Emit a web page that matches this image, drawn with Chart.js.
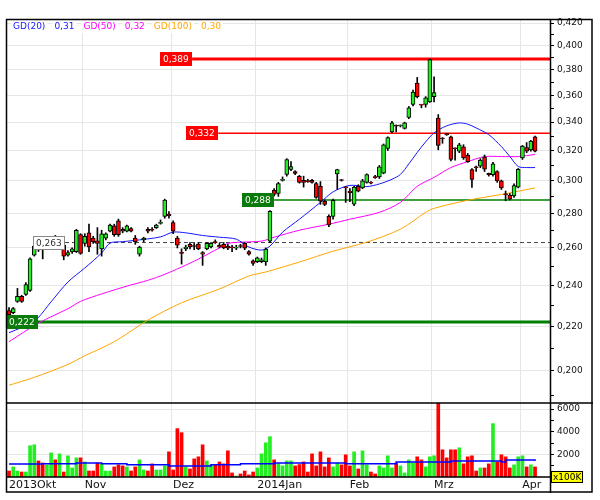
<!DOCTYPE html>
<html>
<head>
<meta charset="utf-8">
<script src="https://cdn.jsdelivr.net/npm/chart.js@4.4.1/dist/chart.umd.min.js"></script>
<style>
  html, body { margin: 0; padding: 0; background: #fff; }
</style>
</head>
<body>
<canvas id="chart" width="600" height="500"></canvas>
<script>
// daily candles, Okt 2013 - Apr 2014 (one entry per trading day)
const openPrices = [
  .2275,.2265,.2320,.2345,.2355,.2375,.2560,.2640,.2605,.2595,
  .2630,.2660,.2615,.2615,.2560,.2578,.2580,.2675,.2625,.2685,
  .2655,.2640,.2595,.2655,.2695,.2725,.2755,.2705,.2695,.2710,
  .2655,.2565,.2645,.2705,.2705,.2715,.2740,.2780,.2795,.2745,
  .2655,.2575,.2595,.2620,.2612,.2622,.2575,.2595,.2605,.2635,
  .2615,.2620,.2610,.2605,.2598,.2612,.2625,.2580,.2530,.2525,
  .2525,.2524,.2638,.2940,.2921,.3003,.3041,.3073,.3060,.3028,
  .3003,.2998,.3003,.2983,.2965,.2872,.2781,.2780,.3045,.3005,
  .2960,.2935,.2855,.2965,.2955,.2990,.2990,.3025,.3025,.3050,
  .3215,.3330,.3375,.3372,.3355,.3435,.3530,.3695,.3530,.3530,
  .3550,.3590,.3430,.3285,.3315,.3295,.3215,.3195,.3225,.3170,
  .3073,.3090,.3095,.3155,.3048,.3040,.3060,.3000,.2915,.2910,
  .2905,.2960,.3150,.3220,.3205,.3295
];
const highPrices = [
  .2290,.2290,.2385,.2350,.2415,.2545,.2630,.2655,.2645,.2650,
  .2665,.2670,.2660,.2640,.2585,.2600,.2705,.2680,.2680,.2735,
  .2665,.2715,.2700,.2685,.2735,.2735,.2765,.2715,.2730,.2715,
  .2670,.2610,.2660,.2715,.2715,.2735,.2760,.2885,.2810,.2755,
  .2665,.2595,.2615,.2630,.2625,.2630,.2580,.2630,.2630,.2645,
  .2625,.2630,.2620,.2615,.2615,.2620,.2630,.2585,.2535,.2550,
  .2545,.2600,.2815,.2950,.2990,.3025,.3145,.3125,.3065,.3035,
  .3030,.3010,.3010,.2990,.2995,.2880,.2790,.2885,.3075,.3008,
  .2965,.2950,.2965,.2975,.3010,.3045,.2995,.3035,.3100,.3245,
  .3295,.3405,.3380,.3380,.3400,.3515,.3640,.3740,.3530,.3590,
  .3890,.3745,.3455,.3290,.3320,.3300,.3218,.3250,.3240,.3180,
  .3080,.3095,.3145,.3170,.3050,.3120,.3065,.3005,.2935,.2920,
  .2980,.3080,.3235,.3255,.3270,.3300
];
const lowPrices = [
  .2245,.2260,.2315,.2315,.2350,.2370,.2555,.2580,.2540,.2590,
  .2610,.2600,.2605,.2535,.2555,.2570,.2575,.2565,.2610,.2580,
  .2625,.2565,.2555,.2645,.2690,.2665,.2665,.2685,.2690,.2690,
  .2620,.2555,.2635,.2685,.2695,.2710,.2735,.2770,.2770,.2680,
  .2600,.2512,.2585,.2595,.2590,.2590,.2505,.2590,.2600,.2625,
  .2600,.2595,.2590,.2580,.2590,.2600,.2590,.2560,.2505,.2520,
  .2520,.2505,.2630,.2905,.2902,.2998,.3030,.3065,.3040,.2985,
  .2960,.2990,.2985,.2890,.2853,.2845,.2720,.2765,.2946,.2998,
  .2865,.2870,.2845,.2930,.2950,.2985,.2980,.3015,.3015,.3045,
  .3200,.3325,.3330,.3365,.3350,.3425,.3520,.3580,.3505,.3510,
  .3545,.3550,.3205,.3250,.3305,.3130,.3135,.3185,.3140,.3120,
  .2958,.3060,.3085,.3060,.3030,.3030,.2990,.2945,.2875,.2880,
  .2895,.2955,.3140,.3185,.3195,.3190
];
const closePrices = [
  .2255,.2285,.2345,.2320,.2405,.2540,.2610,.2600,.2590,.2640,
  .2655,.2615,.2650,.2555,.2575,.2595,.2700,.2570,.2665,.2605,
  .2635,.2625,.2680,.2680,.2730,.2675,.2675,.2695,.2725,.2695,
  .2635,.2605,.2655,.2695,.2700,.2730,.2745,.2880,.2785,.2695,
  .2615,.2570,.2605,.2605,.2608,.2595,.2565,.2625,.2625,.2630,
  .2605,.2600,.2598,.2600,.2605,.2608,.2598,.2565,.2515,.2545,
  .2535,.2593,.2811,.2914,.2983,.3009,.3139,.3093,.3047,.2990,
  .2990,.2995,.2990,.2896,.2872,.2853,.2730,.2878,.3073,.3002,
  .2955,.2925,.2960,.2935,.3000,.3040,.2985,.3020,.3090,.3240,
  .3290,.3395,.3370,.3375,.3395,.3505,.3625,.3590,.3525,.3580,
  .3885,.3620,.3235,.3280,.3310,.3140,.3212,.3240,.3150,.3125,
  .3009,.3085,.3135,.3075,.3040,.3110,.3000,.2955,.2912,.2885,
  .2970,.3075,.3230,.3195,.3265,.3195
];
// volume, in units of 100K
const volumes = [
  530,890,530,440,440,2760,2840,1420,1240,1070,
  2130,1510,2040,440,1870,800,1690,1690,1330,530,
  530,1240,1160,530,530,890,1070,980,890,530,
  890,1510,620,530,1160,620,620,980,2220,620,
  4270,3910,890,710,1600,1780,2840,1420,1070,1070,
  1330,1160,2310,360,90,270,530,180,440,800,
  2040,3020,3560,1510,1160,980,1420,1420,980,1100,
  1330,440,2040,980,2220,890,1690,890,1240,1070,
  1960,980,2220,710,2310,1070,440,270,980,800,
  1870,800,1240,980,360,1510,1240,1780,1510,890,
  1780,1870,6500,2400,1690,2400,2400,2580,1160,1780,
  1870,530,800,800,1160,4710,1330,1960,1780,800,
  1070,1780,1870,890,1070,890
];

// moving averages: [day, value]
const gd20 = [
  [0,.2170],[6,.2224],[10,.2318],[14,.2418],[18,.2491],[22,.2572],[24,.2627],[27,.2635],
  [31,.2645],[36,.2662],[39,.2689],[42,.2685],[46,.2670],[50,.2660],[54,.2649],[57,.2605],
  [60,.2588],[62,.2610],[65,.2689],[69,.2764],[74,.2865],[77,.2930],[81,.2971],[85,.2963],
  [88,.2980],[91,.3010],[93,.3041],[95,.3110],[97,.3187],[99,.3260],[101,.3323],[104,.3373],
  [107,.3394],[109,.3385],[111,.3358],[114,.3310],[117,.3227],[119,.3160],[121,.3093],
  [123,.3086],[125,.3086]
];
const gd50 = [
  [0,.2129],[7,.2215],[14,.2284],[17,.2320],[22,.2357],[29,.2403],[32,.2420],[36,.2449],
  [41,.2496],[45,.2539],[50,.2600],[52,.2625],[55,.2632],[60,.2638],[63,.2660],[69,.2700],
  [76,.2735],[81,.2764],[88,.2805],[93,.2865],[97,.2965],[101,.3022],[105,.3086],[109,.3125],
  [113,.3159],[117,.3159],[121,.3159],[123,.3166],[125,.3173]
];
const gd100 = [
  [0,.1940],[6,.1973],[14,.2028],[18,.2066],[22,.2100],[26,.2140],[33,.2229],[41,.2313],
  [50,.2382],[57,.2449],[61,.2470],[69,.2523],[77,.2582],[85,.2632],[93,.2706],[99,.2805],
  [101,.2829],[109,.2878],[117,.2914],[125,.2955]
];
const volumeAvg = [
  [0,1150],[8,1160],[16,1240],[22,1160],[28,1070],[38,980],[48,1070],[55,1160],[63,1240],
  [72,1240],[80,1160],[92,1330],[105,1420],[117,1330],[118,1510],[125,1420]
];

// horizontal levels
const levelValues = [0.389, 0.332, 0.288, 0.263, 0.222];

// x axis: first trading day of each month
const monthLabels = ['2013Okt', 'Nov', 'Dez', '2014Jan', 'Feb', 'Mrz', 'Apr'];
const monthStartDay = [0, 18, 39, 59, 81, 101, 122];

// axis ticks
const priceTicks = [0.20, 0.22, 0.24, 0.26, 0.28, 0.30, 0.32, 0.34, 0.36, 0.38, 0.40, 0.42];
const volumeTicks = [2000, 4000, 6000];

// ---- styling ----
const UP = '#22ee22', DOWN = '#ff0000', GRID = '#e6e6e6';
const maStyles = [
  { name: 'GD(20)', data: gd20, color: '#1515ff' },
  { name: 'GD(50)', data: gd50, color: '#ff00ff' },
  { name: 'GD(100)', data: gd100, color: '#ffa500' }
];
// line start (day) / label right edge (day) for each level
const levelStyles = [
  { color: '#ff0000', width: 3, from: 43.5, labelAt: 43.5, box: '#ff0000', text: '#fff' },
  { color: '#ff0000', width: 1.5, from: 49.7, labelAt: 49.7, box: '#ff0000', text: '#fff' },
  { color: '#008000', width: 1.5, from: 63.0, labelAt: 63.0, box: '#0a7a0a', text: '#fff' },
  { color: '#444444', width: 1, from: 13.3, labelAt: 13.3, box: '#fff', text: '#333', edge: '#888', dash: [4, 3] },
  { color: '#008000', width: 3, from: -0.72, labelAt: 6.9, box: '#0a7a0a', text: '#fff' }
];
const X_MIN = -0.72, X_MAX = 128.55;

const days = openPrices.map((o, i) => i);
const isUp = days.map(i => closePrices[i] >= openPrices[i]);
const fmt = (v, d) => v.toFixed(d).replace('.', ',');

Chart.defaults.font.family = '"DejaVu Sans", sans-serif';
Chart.defaults.font.size = 9;
Chart.defaults.color = '#111';

const datasets = [];
// candle bodies
datasets.push({
  type: 'bar', order: 0, yAxisID: 'y',
  data: days.map(i => ({ x: i, y: [openPrices[i], closePrices[i]] })),
  backgroundColor: days.map(i => isUp[i] ? UP : DOWN),
  borderColor: '#000', borderWidth: 1, borderSkipped: false,
  barThickness: 4, minBarLength: 1, grouped: false
});
// wicks
datasets.push({
  type: 'bar', order: 0.5, yAxisID: 'y',
  data: days.map(i => ({ x: i, y: [lowPrices[i], highPrices[i]] })),
  backgroundColor: '#000', barThickness: 1, grouped: false
});
// moving averages
maStyles.forEach(m => {
  datasets.push({
    type: 'line', order: 1, yAxisID: 'y',
    data: m.data.map(p => ({ x: p[0], y: p[1] })),
    borderColor: m.color, borderWidth: 1, pointRadius: 0, tension: 0.3
  });
});
// levels
levelValues.forEach((v, k) => {
  const s = levelStyles[k];
  datasets.push({
    type: 'line', order: 2, yAxisID: 'y',
    data: [{ x: s.from, y: v }, { x: X_MAX, y: v }],
    borderColor: s.color, borderWidth: s.width, borderDash: s.dash || [], pointRadius: 0
  });
});
// volume
datasets.push({
  type: 'bar', order: 3, yAxisID: 'yv',
  data: days.map(i => ({ x: i, y: volumes[i] })),
  backgroundColor: days.map(i => isUp[i] ? UP : DOWN),
  barThickness: 3, grouped: false
});
datasets.push({
  type: 'line', order: 2.5, yAxisID: 'yv',
  data: volumeAvg.map(p => ({ x: p[0], y: p[1] })),
  borderColor: '#0000ff', borderWidth: 1.5, pointRadius: 0, stepped: true
});

function minorTicks(majors, step) {
  const out = [];
  majors.forEach(v => out.push({ value: v, lab: true }));
  majors.forEach(v => out.push({ value: +(v - step).toFixed(4), lab: false }));
  out.sort((a, b) => a.value - b.value);
  return out;
}

const overlay = {
  id: 'overlay',
  afterDatasetsDraw(chart) {
    const { ctx, scales: { x, y } } = chart;
    ctx.save();
    ctx.font = '9px "DejaVu Sans"';
    ctx.textBaseline = 'middle';
    levelValues.forEach((v, k) => {
      const s = levelStyles[k];
      const py = Math.round(y.getPixelForValue(v));
      const txt = fmt(v, 3);
      const w = Math.ceil(ctx.measureText(txt).width) + 6;
      const right = Math.round(x.getPixelForValue(s.labelAt));
      ctx.fillStyle = s.box;
      ctx.fillRect(right - w, py - 7, w, 14);
      if (s.edge) {
        ctx.strokeStyle = s.edge; ctx.lineWidth = 1;
        ctx.strokeRect(right - w + 0.5, py - 6.5, w - 1, 13);
      }
      ctx.fillStyle = s.text;
      ctx.fillText(txt, right - w + 3, py + 0.5);
    });
    ctx.restore();
  },
  afterDraw(chart) {
    const { ctx, chartArea: ca, scales: { x, y } } = chart;
    const outerR = y.right, outerB = x.bottom;
    ctx.save();
    ctx.strokeStyle = '#000';
    ctx.lineWidth = 1.5;
    ctx.strokeRect(ca.left + 0.5, ca.top + 0.5, outerR - ca.left - 1.5, outerB - ca.top - 1.5);
    ctx.beginPath();
    ctx.moveTo(ca.left, y.bottom); ctx.lineTo(outerR, y.bottom);
    ctx.moveTo(ca.right + 0.5, ca.top); ctx.lineTo(ca.right + 0.5, outerB);
    ctx.moveTo(ca.left, ca.bottom); ctx.lineTo(ca.right, ca.bottom);
    ctx.stroke();

    // legend
    ctx.font = '9px "DejaVu Sans"';
    ctx.textBaseline = 'middle';
    let lx = ca.left + 7;
    const ly = ca.top + 8;
    maStyles.forEach(m => {
      [m.name, fmt(m.data[m.data.length - 1][1], 2)].forEach(t => {
        const w = ctx.measureText(t).width;
        ctx.fillStyle = '#fff';
        ctx.fillRect(lx - 2, ly - 6, w + 4, 12);
        ctx.fillStyle = m.color;
        ctx.fillText(t, lx, ly);
        lx += w + 9;
      });
    });

    // volume unit box
    ctx.fillStyle = '#ffff00';
    ctx.fillRect(ca.right + 1, ca.bottom - 6, 32, 12);
    ctx.lineWidth = 1;
    ctx.strokeRect(ca.right + 1.5, ca.bottom - 5.5, 31, 11);
    ctx.fillStyle = '#000';
    ctx.fillText('x100K', ca.right + 3, ca.bottom + 0.5);
    ctx.restore();
  }
};

new Chart(document.getElementById('chart'), {
  type: 'bar',
  data: { datasets },
  options: {
    responsive: false,
    animation: false,
    events: [],
    layout: { padding: { left: 6, top: 19, right: 7, bottom: 7 } },
    plugins: { legend: { display: false }, tooltip: { enabled: false } },
    scales: {
      x: {
        type: 'linear', min: X_MIN, max: X_MAX, bounds: 'data', offset: false,
        afterBuildTicks: s => { s.ticks = monthStartDay.map(d => ({ value: d - 0.5 })); },
        afterFit: s => { s.height = 16; },
        grid: { offset: false, color: GRID, drawTicks: false },
        border: { display: false },
        ticks: {
          autoSkip: false, maxRotation: 0, align: 'start', labelOffset: 2, padding: 2,
          font: { size: 11 }, color: '#111',
          callback: (v, i) => monthLabels[i]
        }
      },
      y: {
        type: 'logarithmic', position: 'right', stack: 'panes', stackWeight: 384,
        min: 0.1868, max: 0.4236, bounds: 'data',
        afterBuildTicks: s => { s.ticks = minorTicks(priceTicks, 0.01).filter(t => t.value >= 0.19); },
        afterFit: s => { s.width = 43; },
        grid: {
          color: c => (c.tick && c.tick.lab) ? GRID : 'rgba(0,0,0,0)',
          tickColor: '#000', tickLength: 4
        },
        border: { display: false },
        ticks: {
          autoSkip: false, padding: 3, color: '#111',
          callback: (v, i, t) => t[i].lab ? fmt(v, 3) : ''
        }
      },
      yv: {
        type: 'linear', position: 'right', stack: 'panes', stackWeight: 74,
        min: 0, max: 6530, bounds: 'data',
        afterBuildTicks: s => { s.ticks = minorTicks(volumeTicks, 1000); },
        afterFit: s => { s.width = 43; },
        grid: {
          color: c => (c.tick && c.tick.lab) ? GRID : 'rgba(0,0,0,0)',
          tickColor: '#000', tickLength: 4
        },
        border: { display: false },
        ticks: {
          autoSkip: false, padding: 3, color: '#111',
          callback: (v, i, t) => t[i].lab ? String(v) : ''
        }
      }
    }
  },
  plugins: [overlay]
});
</script>
</body>
</html>
